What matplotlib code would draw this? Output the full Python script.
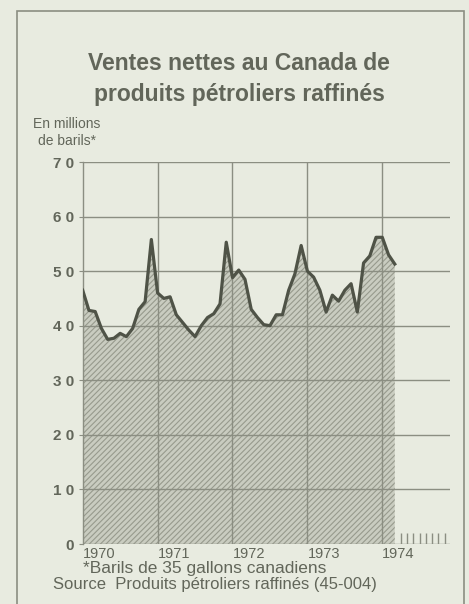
"""Ventes nettes au Canada de produits pétroliers raffinés, 1970-1974"""

import numpy as np
from matplotlib import pyplot as plt
from matplotlib.patches import Rectangle

# monthly net sales, millions of barrels, Jan 1970 - Mar 1974
ventes = [46.5, 42.8, 42.6, 39.5, 37.5, 37.7, 38.6, 38.0, 39.5, 43.0, 44.4, 55.8,
          46.0, 45.0, 45.3, 42.0, 40.6, 39.2, 38.0, 40.0, 41.5, 42.2, 44.0, 55.3,
          48.8, 50.2, 48.5, 43.0, 41.5, 40.2, 40.0, 42.0, 42.0, 46.5, 49.5, 54.7,
          50.0, 48.9, 46.5, 42.5, 45.6, 44.5, 46.5, 47.7, 42.5, 51.5, 52.8, 56.2,
          56.2, 53.0, 51.3]
annees = [1970, 1971, 1972, 1973, 1974]
annee_labels = ['1970', '1971', '1972', '1973', '1974']
y_ticks = [0, 10, 20, 30, 40, 50, 60, 70]
y_labels = ['0', '1 0', '2 0', '3 0', '4 0', '5 0', '6 0', '7 0']

BG = '#e8ebe0'
INK = '#62665a'
LINE = '#4f5347'
GRID = '#8b8e82'

plt.rcParams['font.family'] = ['Liberation Sans', 'DejaVu Sans']
plt.rcParams['hatch.linewidth'] = 0.8
plt.rcParams['hatch.color'] = '#979a8d'

W, H = 469, 604
fig = plt.figure(figsize=(W / 100, H / 100), dpi=100, facecolor=BG)

x0, x1 = 82.7, 449.7
y0, y1 = 544, 162
ax = fig.add_axes([x0 / W, 1 - y0 / H, (x1 - x0) / W, (y0 - y1) / H])
ax.set_facecolor(BG)

t = annees[0] + np.arange(len(ventes)) / 12

ax.fill_between(t, 0, ventes, facecolor='#c9ccc0', edgecolor='#979a8d',
                hatch='//////', linewidth=0, zorder=2)
ax.plot(t, ventes, color=LINE, linewidth=2.3, zorder=4)

# months still to come in 1974
reste = annees[-1] + np.arange(3, 12) / 12
ax.vlines(reste, 0, 2, color=GRID, linewidth=1.0, zorder=3)

for y in y_ticks[1:]:
    ax.axhline(y, color=GRID, linewidth=1.0, zorder=3)
for a in annees[1:]:
    ax.axvline(a, color=GRID, linewidth=1.0, zorder=3)
ax.axhline(0, color=GRID, linewidth=1.0, zorder=3)

ax.set_xlim(1970, 1974.9)
ax.set_ylim(0, 70)
for s in ['top', 'right', 'bottom']:
    ax.spines[s].set_visible(False)
ax.spines['left'].set_color(GRID)
ax.spines['left'].set_linewidth(1.0)

ax.set_yticks(y_ticks, y_labels, fontsize=11, fontweight='bold', color=INK)
ax.set_xticks(annees, annee_labels, fontsize=10.5, color=INK, ha='left')
ax.tick_params(axis='y', length=3, pad=3, color=GRID)
ax.tick_params(axis='x', length=0, pad=2)

fig.text(239 / W, 1 - 63 / H, 'Ventes nettes au Canada de', ha='center', va='center',
         fontsize=16.5, fontweight='bold', color=INK)
fig.text(239 / W, 1 - 94 / H, 'produits pétroliers raffinés', ha='center', va='center',
         fontsize=16.5, fontweight='bold', color=INK)
fig.text(67 / W, 1 - 124 / H, 'En millions', ha='center', va='center',
         fontsize=10, color=INK)
fig.text(67 / W, 1 - 141 / H, 'de barils*', ha='center', va='center',
         fontsize=10, color=INK)
fig.text(83 / W, 1 - 568 / H, '*Barils de 35 gallons canadiens', ha='left', va='center',
         fontsize=12.5, color=INK)
fig.text(53 / W, 1 - 584 / H, 'Source  Produits pétroliers raffinés (45-004)', ha='left',
         va='center', fontsize=12, color=INK)

fig.add_artist(Rectangle((17 / W, -0.01), (464 - 17) / W, 1.01 - 11 / H,
                         transform=fig.transFigure, fill=False, edgecolor=GRID,
                         linewidth=1.2))

fig.savefig('out.png', dpi=100, facecolor=BG)
